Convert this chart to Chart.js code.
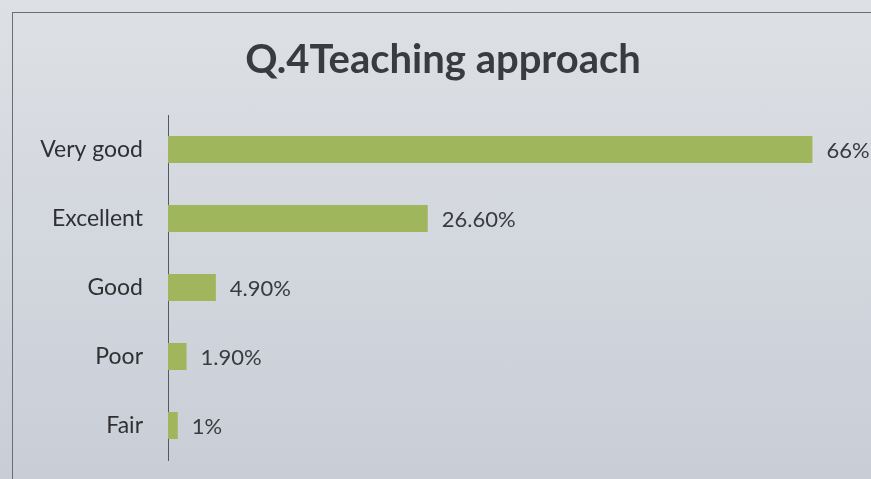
<!DOCTYPE html>
<html>
<head>
<meta charset="utf-8">
<script src="https://cdn.jsdelivr.net/npm/chart.js@4.4.0/dist/chart.umd.min.js"></script>
<style>
  html, body { margin: 0; padding: 0; }
  body { width: 871px; height: 479px; overflow: hidden; position: relative;
    background: linear-gradient(180deg, #dde0e4 0%, #d3d7de 50%, #c9cdd6 100%); }
  #frame { position: absolute; left: 12px; top: 12px; width: 900px; height: 500px;
    border-left: 1px solid #6a6d72; border-top: 1px solid #6a6d72; }
  #chart { position: absolute; left: 0; top: 0; }
</style>
</head>
<body>
<div id="frame"></div>
<canvas id="chart" width="871" height="479"></canvas>
<script>
// ==== DATA ====
var categories = ['Very good', 'Excellent', 'Good', 'Poor', 'Fair'];
var values = [66, 26.6, 4.9, 1.9, 1];
var valueLabels = ['66%', '26.60%', '4.90%', '1.90%', '1%'];
var chartTitle = 'Q.4Teaching approach';

var FONT = 'Lato, "Open Sans", sans-serif';

// value labels at the end of each bar
var barLabels = {
  id: 'barLabels',
  afterDatasetsDraw: function (chart) {
    var ctx = chart.ctx;
    var meta = chart.getDatasetMeta(0);
    ctx.save();
    ctx.font = '22px ' + FONT;
    ctx.fillStyle = '#3a3b3e';
    ctx.textAlign = 'left';
    ctx.textBaseline = 'middle';
    meta.data.forEach(function (bar, i) {
      ctx.fillText(valueLabels[i], bar.x + 14, bar.y + 1);
    });
    ctx.restore();
  }
};

new Chart(document.getElementById('chart').getContext('2d'), {
  type: 'bar',
  data: {
    labels: categories,
    datasets: [{ data: values, backgroundColor: '#9fb65d', borderWidth: 0,
      barPercentage: 0.8, categoryPercentage: 0.49 }]
  },
  options: {
    indexAxis: 'y',
    responsive: false,
    animation: false,
    devicePixelRatio: 1,
    layout: { padding: { left: 15, right: 0, top: 0, bottom: 19 } },
    plugins: {
      legend: { display: false },
      tooltip: { enabled: false },
      title: { display: true, text: chartTitle, color: '#3a3b3e',
        font: { family: FONT, size: 40, weight: 'bold' },
        padding: { top: 36, bottom: 31 } }
    },
    scales: {
      x: { display: false, min: 0, max: 72 },
      y: {
        grid: { display: false, drawTicks: false },
        border: { display: true, color: '#55585c', width: 1 },
        ticks: { color: '#2f3033', padding: 25, font: { family: FONT, size: 23 } },
        afterFit: function (scale) {
          scale.width = 153;
          scale.paddingTop = 0;
          scale.paddingBottom = 0;
        }
      }
    }
  },
  plugins: [barLabels]
});
</script>
</body>
</html>
